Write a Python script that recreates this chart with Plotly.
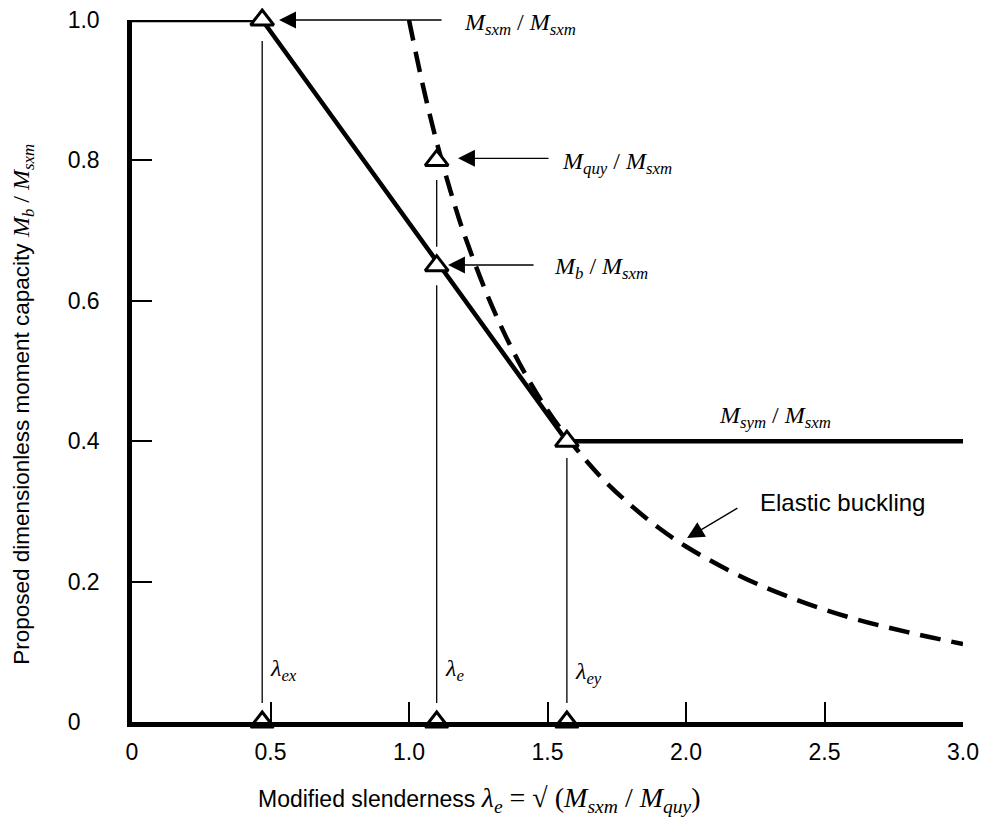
import plotly.graph_objects as go

# ---- data ----
# proposed design curve (solid)
design_x = [0.0, 0.47, 1.57, 3.0]
design_y = [1.0, 1.0, 0.40, 0.40]

# elastic buckling curve (dashed)
elastic_x = [1.0, 1.05, 1.1, 1.15, 1.2, 1.3, 1.4, 1.5, 1.6, 1.7, 1.8, 1.9, 2.0, 2.2, 2.4, 2.6, 2.8, 3.0]
elastic_y = [1.0, 0.907, 0.826, 0.756, 0.694, 0.592, 0.510, 0.444, 0.391, 0.346, 0.309, 0.277, 0.250,
             0.207, 0.174, 0.148, 0.128, 0.111]

# open triangle markers
tri_x = [0.47, 1.1, 1.1, 1.57, 0.47, 1.1, 1.57]
tri_y = [1.0, 0.80, 0.65, 0.40, 0.0, 0.0, 0.0]

# thin vertical guide lines (None separates segments)
guide_x = [0.47, 0.47, None, 1.1, 1.1, None, 1.1, 1.1, None, 1.57, 1.57]
guide_y = [0.970, 0.027, None, 0.772, 0.677, None, 0.622, 0.027, None, 0.376, 0.027]

x_ticks = [0, 0.5, 1.0, 1.5, 2.0, 2.5, 3.0]
x_ticktext = ["0", "0.5", "1.0", "1.5", "2.0", "2.5", "3.0"]
y_ticks = [0, 0.2, 0.4, 0.6, 0.8, 1.0]
y_ticktext = ["0\u00a0\u00a0\u00a0", "0.2", "0.4", "0.6", "0.8", "1.0"]

SERIF = "Liberation Serif, Times New Roman, serif"
SANS = "Liberation Sans, Arial, sans-serif"

fig = go.Figure()

fig.add_trace(go.Scatter(x=guide_x, y=guide_y, mode="lines",
                         line=dict(color="black", width=1.3),
                         hoverinfo="skip", showlegend=False, cliponaxis=False))
fig.add_trace(go.Scatter(x=elastic_x, y=elastic_y, mode="lines",
                         line=dict(color="black", width=4.5, dash="21px,11px", shape="spline"),
                         showlegend=False, cliponaxis=False))
fig.add_trace(go.Scatter(x=design_x, y=design_y, mode="lines",
                         line=dict(color="black", width=4.5),
                         showlegend=False, cliponaxis=False))
fig.add_trace(go.Scatter(x=tri_x, y=tri_y, mode="markers",
                         marker=dict(symbol="triangle-up", size=20, color="white",
                                     line=dict(color="black", width=3)),
                         showlegend=False, cliponaxis=False))

def serif_span(s, size=None):
    st = f"font-family:{SERIF}"
    if size:
        st += f";font-size:{size}px"
    return f"<span style='{st}'>{s}</span>"

# arrows (tip x,y ; tail ax,ay in data coords)
arrows = [
    (0.531, 1.0, 1.123, 1.0),
    (1.177, 0.803, 1.509, 0.803),
    (1.141, 0.651, 1.455, 0.651),
    (2.004, 0.262, 2.191, 0.306),
]
for x, y, ax, ay in arrows:
    fig.add_annotation(x=x, y=y, ax=ax, ay=ay, xref="x", yref="y", axref="x", ayref="y",
                       text="", showarrow=True, arrowhead=2, arrowsize=2.6,
                       arrowwidth=1.3, arrowcolor="black")

# labels
labels = [
    (1.191, 0.994, "<i>M<sub>sxm</sub></i> / <i>M<sub>sxm</sub></i>"),
    (1.545, 0.796, "<i>M<sub>quy</sub></i> / <i>M<sub>sxm</sub></i>"),
    (1.516, 0.647, "<i>M<sub>b</sub></i> / <i>M<sub>sxm</sub></i>"),
    (2.112, 0.434, "<i>M<sub>sym</sub></i> / <i>M<sub>sxm</sub></i>"),
    (0.491, 0.074, "<i>λ<sub>ex</sub></i>"),
    (1.123, 0.074, "<i>λ<sub>e</sub></i>"),
    (1.592, 0.070, "<i>λ<sub>ey</sub></i>"),
]
for x, y, t in labels:
    fig.add_annotation(x=x, y=y, xref="x", yref="y", text=t, showarrow=False,
                       xanchor="left", yanchor="middle",
                       font=dict(family=SERIF, size=24, color="black"))

fig.add_annotation(x=2.260, y=0.312, xref="x", yref="y", text="Elastic buckling",
                   showarrow=False, xanchor="left", yanchor="middle",
                   font=dict(family=SANS, size=24, color="black"))

# axis titles
fig.add_annotation(x=0.4176, y=-0.111, xref="paper", yref="paper",
                   text="Modified slenderness " + serif_span(
                       "<i>λ<sub>e</sub></i> = √ (<i>M<sub>sxm</sub></i> / <i>M<sub>quy</sub></i>)", 28),
                   showarrow=False, xanchor="center", yanchor="middle",
                   font=dict(family=SANS, size=23, color="black"))
fig.add_annotation(x=-0.131, y=0.452, xref="paper", yref="paper", textangle=-90,
                   text="Proposed dimensionless moment capacity " + serif_span(
                       "<i>M<sub>b</sub></i> / <i>M<sub>sxm</sub></i>", 24),
                   showarrow=False, xanchor="center", yanchor="middle",
                   font=dict(family=SANS, size=22.5, color="black"))

fig.update_xaxes(range=[0, 3.0], tickvals=x_ticks, ticktext=x_ticktext,
                 showgrid=False, zeroline=False, showline=True, linecolor="black",
                 linewidth=4.5, ticks="inside", ticklen=20, tickwidth=1.5, tickcolor="black",
                 ticklabelstandoff=6, ticklabeloverflow="allow",
                 tickfont=dict(family=SANS, size=23, color="black"))
fig.update_yaxes(range=[0, 1.0], tickvals=y_ticks, ticktext=y_ticktext,
                 showgrid=False, zeroline=False, showline=True, linecolor="black",
                 linewidth=4.5, ticks="inside", ticklen=20, tickwidth=1.5, tickcolor="black",
                 ticklabelstandoff=23, ticklabeloverflow="allow",
                 tickfont=dict(family=SANS, size=23, color="black"))

fig.update_layout(width=990, height=821,
                  margin=dict(l=124, r=35, t=12, b=107, autoexpand=False),
                  paper_bgcolor="white", plot_bgcolor="white",
                  showlegend=False)

fig.write_html("out.html")
